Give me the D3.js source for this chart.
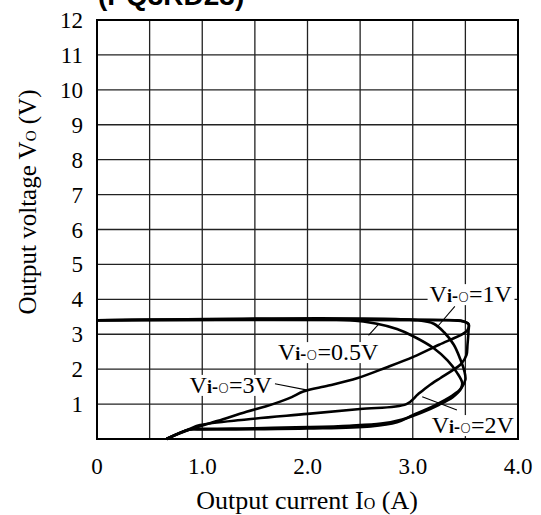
<!DOCTYPE html>
<html>
<head>
<meta charset="utf-8">
<script src="https://cdn.jsdelivr.net/npm/d3@7"></script>
<style>
body { margin: 0; background: white; }
text { font-family: "Liberation Serif", "DejaVu Serif", serif; fill: black; }
</style>
</head>
<body>
<script>
width = 541,
height = 515;

// tick labels
var xTicks = [0, 1, 2, 3, 4];
var xTickLabels = ["0", "1.0", "2.0", "3.0", "4.0"];
var yTicks = [1, 2, 3, 4, 5, 6, 7, 8, 9, 10, 11, 12];

// curves: [current A, voltage V]
var curve05 = [[0,3.4],[2.4,3.4],[2.66,3.3],[2.85,3.15],[3.0,2.95],[3.2,2.6],[3.33,2.25],[3.42,1.9],[3.47,1.6],[3.45,1.4],[3.38,1.2],[3.25,0.98],[3.08,0.75],[2.9,0.56],[2.7,0.44],[2.4,0.38],[2.0,0.34],[1.5,0.31],[1.0,0.29],[0.88,0.27],[0.66,0]];
var curve1 = [[0,3.4],[3.05,3.4],[3.2,3.3],[3.3,3.05],[3.39,2.7],[3.45,2.3],[3.49,1.95],[3.5,1.7],[3.46,1.45],[3.38,1.25],[3.2,0.95],[3.0,0.68],[2.85,0.48],[2.6,0.36],[2.0,0.3],[1.5,0.28],[1.0,0.27],[0.88,0.27],[0.66,0]];
var curve2 = [[0,3.4],[3.4,3.4],[3.48,3.37],[3.53,3.28],[3.53,3.1],[3.52,2.7],[3.51,2.4],[3.46,2.15],[3.37,1.95],[3.26,1.74],[3.15,1.52],[3.05,1.28],[2.94,1.0],[2.5,0.86],[2.0,0.72],[1.42,0.56],[0.98,0.4],[0.88,0.29],[0.66,0]];
var curve3 = [[0,3.4],[3.35,3.4],[3.46,3.38],[3.53,3.3],[3.52,3.12],[3.48,3.02],[3.25,2.7],[3.01,2.36],[2.75,2.05],[2.47,1.74],[2.2,1.53],[1.96,1.36],[1.85,1.2],[1.74,1.07],[1.6,0.93],[1.42,0.78],[1.15,0.52],[0.88,0.27],[0.66,0]];

// labels: series name, text start (A, V), pointer from / to
var labelNames = ["1V", "0.5V", "3V", "2V"];
var labelPos = [[3.16, 3.92], [1.72, 2.26], [0.88, 1.32], [3.18, 0.17]];
var pointers = [[[3.40, 3.8], [3.23, 3.2]], [[2.67, 3.27], [2.58, 2.97]], [[1.69, 1.58], [2.0, 1.40]], [[3.09, 1.21], [3.42, 0.83]]];

var svg = d3.select("body").append("svg").attr("width", width).attr("height", height)

X = d3.scaleLinear().domain([0, 4]).range([97, 518]);
Y = d3.scaleLinear().domain([0, 12]).range([439, 20]);

// title, cut off at the top like the scan
svg.append("text").attr("x", 98).attr("y", 5)
	.style("font-family", "Liberation Sans, Arial, sans-serif")
	.style("font-weight", "bold").style("font-size", "28px")
	.text("(PQ3RD23)")

// grid
svg.selectAll(".vgrid").data(d3.range(1, 8).map(function(d) { return d * 0.5 })).enter().append("line")
	.attr("x1", function(d) { return X(d) }).attr("x2", function(d) { return X(d) })
	.attr("y1", Y(0)).attr("y2", Y(12))
	.style("stroke", "#222").style("stroke-width", 1.3)
svg.selectAll(".hgrid").data(d3.range(1, 12)).enter().append("line")
	.attr("x1", X(0)).attr("x2", X(4))
	.attr("y1", function(d) { return Y(d) }).attr("y2", function(d) { return Y(d) })
	.style("stroke", "#222").style("stroke-width", 1.3)

// curves
var line = d3.line().x(function(d) { return X(d[0]) }).y(function(d) { return Y(d[1]) })
	.curve(d3.curveCatmullRom.alpha(0.5));
svg.selectAll(".curve").data([curve05, curve1, curve2, curve3]).enter().append("path")
	.attr("d", line)
	.style("fill", "none").style("stroke", "black").style("stroke-width", 2.6)
	.style("stroke-linejoin", "round")

// pointer lines
svg.selectAll(".ptr").data(pointers).enter().append("line")
	.attr("x1", function(d) { return X(d[0][0]) }).attr("y1", function(d) { return Y(d[0][1]) })
	.attr("x2", function(d) { return X(d[1][0]) }).attr("y2", function(d) { return Y(d[1][1]) })
	.style("stroke", "black").style("stroke-width", 1.1)

// curve labels with white box
labelNames.forEach(function(name, i) {
	var g = svg.append("g");
	var t = g.append("text").attr("x", X(labelPos[i][0])).attr("y", Y(labelPos[i][1]))
		.style("font-size", "24px");
	t.append("tspan").text("V");
	t.append("tspan").style("font-size", "18px").style("font-weight", "bold").text("i-");
	t.append("tspan").style("font-size", "14px").style("font-family", "DejaVu Sans, sans-serif").style("font-weight", "300").text("O");
	t.append("tspan").text("=" + name);
	var b = t.node().getBBox();
	g.insert("rect", "text").attr("x", b.x - 2).attr("y", b.y + 3).attr("width", b.width + 4).attr("height", b.height - 5)
		.style("fill", "white");
});

// frame
svg.append("rect").attr("x", X(0)).attr("y", Y(12)).attr("width", X(4) - X(0)).attr("height", Y(0) - Y(12))
	.style("fill", "none").style("stroke", "black").style("stroke-width", 2)

// tick labels
svg.selectAll(".yt").data(yTicks).enter().append("text")
	.attr("x", 83).attr("y", function(d) { return Y(d) }).attr("dy", "0.35em")
	.attr("text-anchor", "end").style("font-size", "23px")
	.text(function(d) { return d })
svg.selectAll(".xt").data(xTicks).enter().append("text")
	.attr("x", function(d) { return X(d) }).attr("y", 474)
	.attr("text-anchor", "middle").style("font-size", "23px")
	.text(function(d, i) { return xTickLabels[i] })

// axis titles
var xt = svg.append("text").attr("x", 307).attr("y", 509).attr("text-anchor", "middle").style("font-size", "26px")
xt.append("tspan").text("Output current I")
xt.append("tspan").style("font-size", "16px").text("O")
xt.append("tspan").text(" (A)")

var yt = svg.append("text").attr("transform", "translate(36,202) rotate(-90)").attr("text-anchor", "middle").style("font-size", "25px")
yt.append("tspan").text("Output voltage V")
yt.append("tspan").style("font-size", "15px").text("O")
yt.append("tspan").text(" (V)")
</script>
</body>
</html>
